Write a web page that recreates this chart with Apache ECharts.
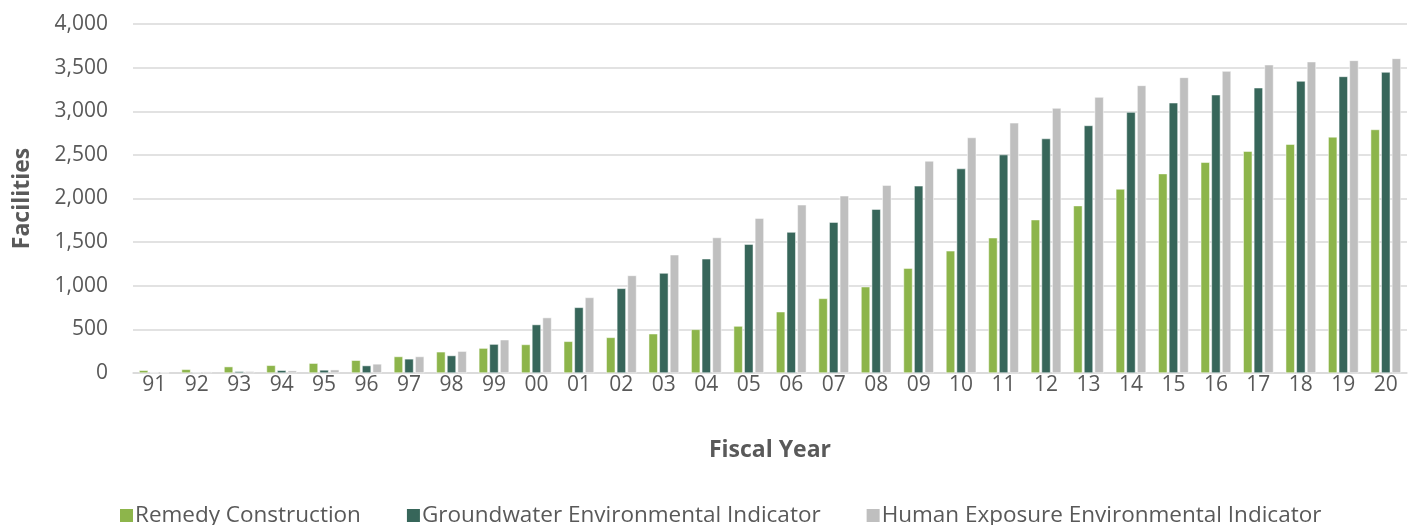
<!DOCTYPE html>
<html><head><meta charset="utf-8">
<script src="https://cdn.jsdelivr.net/npm/echarts@6/dist/echarts.min.js"></script>
<style>html,body{margin:0;padding:0;background:#fff}#c{width:1411px;height:525px}</style>
</head><body><div id="c"></div>
<script>
const categories = ['91','92','93','94','95','96','97','98','99','00','01','02','03','04','05','06','07','08','09','10','11','12','13','14','15','16','17','18','19','20'];
const remedyConstruction = [31,42,73,88,112,146,189,243,285,327,363,408,450,500,538,702,855,989,1202,1400,1550,1757,1918,2109,2285,2415,2542,2622,2706,2791];
const groundwaterEI = [3,8,19,31,35,85,162,200,331,555,752,970,1145,1309,1477,1615,1729,1878,2145,2343,2503,2687,2837,2990,3097,3189,3269,3346,3399,3449];
const humanExposureEI = [3,15,19,27,38,104,189,250,381,635,866,1118,1355,1553,1775,1928,2031,2153,2430,2699,2867,3036,3162,3296,3388,3460,3533,3568,3583,3606];
const seriesNames = ['Remedy Construction','Groundwater Environmental Indicator','Human Exposure Environmental Indicator'];
const colors = ['#8db54b','#37665a','#bfbfbf'];
const FONT = '"Open Sans", "Noto Sans", sans-serif';
const chart = echarts.init(document.getElementById('c'), null, {renderer:'canvas'});
const data = [remedyConstruction, groundwaterEI, humanExposureEI];
chart.setOption({
  animation:false,
  textStyle:{fontFamily:FONT},
  grid:{left:133,right:4,top:24,bottom:152,containLabel:false,outerBoundsMode:'none'},
  legend:{
    bottom:-7, left:113, itemWidth:15, itemHeight:15, itemGap:44,
    icon:'rect',
    textStyle:{fontFamily:FONT,fontSize:22.5,color:'#595959',padding:[0,0,0,-4]},
    data:seriesNames
  },
  xAxis:{
    type:'category', data:categories,
    name:'Fiscal Year', nameLocation:'middle', nameGap:66,
    nameTextStyle:{fontFamily:FONT,fontSize:23,fontWeight:'bold',color:'#595959'},
    axisLine:{lineStyle:{color:'#d9d9d9',width:1.5}},
    axisTick:{show:false},
    axisLabel:{fontFamily:FONT,fontSize:21,color:'#595959',margin:2}
  },
  yAxis:{
    type:'value', min:0, max:4000, interval:500,
    name:'Facilities', nameLocation:'middle', nameGap:99, nameRotate:90,
    nameTextStyle:{fontFamily:FONT,fontSize:23,fontWeight:'bold',color:'#595959'},
    axisLine:{show:false}, axisTick:{show:false},
    splitLine:{lineStyle:{color:'#d9d9d9',width:1.5}},
    axisLabel:{fontFamily:FONT,fontSize:21,color:'#595959',margin:25,
      formatter:v=>v.toLocaleString('en-US')}
  },
  series: seriesNames.map((n,i)=>({
    name:n, type:'bar', data:data[i], barWidth:9, barGap:'18%',
    itemStyle:{color:colors[i],borderColor:'#ffffff',borderWidth:0.5}
  }))
});
</script></body></html>
